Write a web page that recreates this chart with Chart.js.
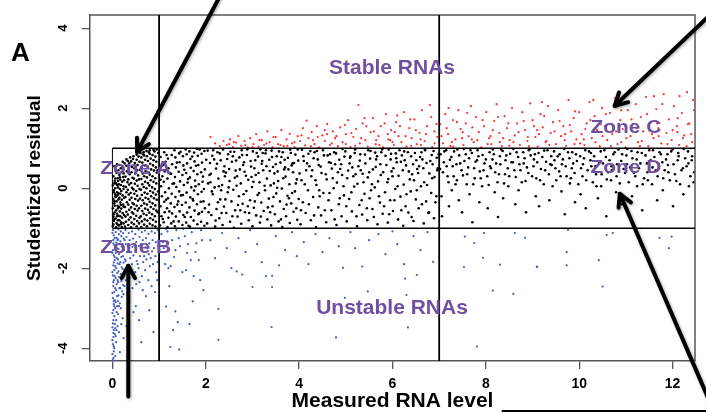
<!DOCTYPE html>
<html><head><meta charset="utf-8">
<script src="https://cdn.jsdelivr.net/npm/chart.js@4.4.0/dist/chart.umd.min.js"></script>
<style>html,body{margin:0;padding:0;background:#fff;}#wrap{position:relative;width:706px;height:413px;}</style>
</head><body><div id="wrap"><canvas id="c" width="706" height="413"></canvas></div>
<script>
// ---- axes ----
const xTicks = [0, 2, 4, 6, 8, 10, 12];
const yTicks = [-4, -2, 0, 2, 4];
const xRange = [-0.48, 12.48];
const yRange = [-4.32, 4.33];
const cutX = [1, 7];
const cutY = [1, -1];

// ---- points, flat [x, y, x, y, ...] ----
const blackPts = [
0.01,-0.95,0.03,-0.82,0.02,-0.71,0.05,-0.6,0.01,-0.5,0.04,-0.38,0.02,-0.27,0.06,-0.15,0.03,-0.05,0.01,0.07,0.05,0.18,0.02,0.3,
0.08,-0.98,0.09,-0.87,0.07,-0.76,0.1,-0.64,0.08,-0.55,0.11,-0.44,0.09,-0.33,0.07,-0.22,0.1,-0.1,0.12,0.02,0.08,0.12,0.11,0.25,0.09,0.38,
0.14,-0.93,0.15,-0.8,0.13,-0.69,0.16,-0.58,0.14,-0.47,0.17,-0.36,0.15,-0.24,0.13,-0.13,0.16,-0.02,0.14,0.1,0.17,0.21,0.15,0.33,0.13,0.45,
0.2,-0.97,0.19,-0.85,0.21,-0.74,0.22,-0.62,0.19,-0.51,0.23,-0.41,0.2,-0.29,0.22,-0.18,0.19,-0.07,0.24,0.05,0.21,0.16,0.23,0.28,0.2,0.41,
0.02,-0.9,0.04,-0.77,0.03,-0.65,0.05,-0.44,0.04,-0.32,0.06,-0.2,0.03,-0.1,0.06,0.0,0.04,0.12,0.06,0.24,
0.11,-0.91,0.12,-0.8,0.1,-0.7,0.12,-0.5,0.13,-0.28,0.11,-0.18,0.1,0.08,0.12,0.18,
0.18,-0.9,0.17,-0.7,0.18,-0.42,0.17,-0.14,0.18,0.08,0.16,0.27,0.18,0.5,
0.24,-0.88,0.25,-0.67,0.24,-0.46,0.25,-0.24,0.24,-0.02,0.25,0.2,0.24,0.37,0.22,0.52,0.07,0.45,0.04,0.55,0.1,0.6,
0.27,-0.96,0.29,-0.84,0.28,-0.71,0.3,-0.59,0.27,-0.47,0.31,-0.35,0.28,-0.22,0.3,-0.1,0.29,0.03,0.32,0.15,0.28,0.29,0.31,0.42,0.3,0.56,
0.34,-0.92,0.35,-0.79,0.33,-0.66,0.36,-0.54,0.34,-0.41,0.37,-0.29,0.35,-0.16,0.33,-0.04,0.36,0.09,0.34,0.22,0.37,0.35,0.35,0.48,0.36,0.62,
0.4,-0.98,0.41,-0.86,0.39,-0.73,0.42,-0.6,0.4,-0.48,0.43,-0.37,0.41,-0.24,0.39,-0.12,0.42,0.01,0.4,0.13,0.43,0.26,0.41,0.4,0.42,0.53,0.4,0.67,
0.46,-0.9,0.47,-0.77,0.45,-0.64,0.48,-0.52,0.46,-0.4,0.49,-0.27,0.47,-0.14,0.45,-0.03,0.48,0.11,0.46,0.24,0.49,0.37,0.47,0.5,0.48,0.63,
0.52,-0.95,0.53,-0.82,0.51,-0.69,0.54,-0.56,0.52,-0.44,0.55,-0.31,0.53,-0.19,0.51,-0.07,0.54,0.06,0.52,0.19,0.55,0.32,0.53,0.45,0.54,0.58,0.52,0.71,
0.57,-0.88,0.58,-0.74,0.57,-0.5,0.59,-0.26,0.58,-0.02,0.57,0.22,0.59,0.46,0.58,0.66,
0.62,-0.97,0.63,-0.83,0.61,-0.7,0.64,-0.57,0.62,-0.44,0.65,-0.3,0.63,-0.17,0.61,-0.04,0.64,0.1,0.62,0.23,0.65,0.37,0.63,0.5,0.64,0.64,0.62,0.77,
0.68,-0.91,0.69,-0.78,0.67,-0.64,0.7,-0.51,0.68,-0.38,0.71,-0.24,0.69,-0.11,0.67,0.03,0.7,0.16,0.68,0.3,0.71,0.43,0.69,0.57,0.7,0.71,0.68,0.82,
0.74,-0.95,0.75,-0.81,0.73,-0.67,0.76,-0.54,0.74,-0.41,0.77,-0.27,0.75,-0.14,0.73,0.0,0.76,0.13,0.74,0.27,0.77,0.4,0.75,0.54,0.76,0.68,0.74,0.8,
0.8,-0.89,0.81,-0.75,0.79,-0.61,0.82,-0.47,0.8,-0.34,0.83,-0.2,0.81,-0.07,0.79,0.07,0.82,0.2,0.8,0.34,0.83,0.47,0.81,0.61,0.82,0.74,0.8,0.86,
0.86,-0.93,0.87,-0.79,0.85,-0.65,0.88,-0.52,0.86,-0.38,0.89,-0.25,0.87,-0.11,0.85,0.02,0.88,0.16,0.86,0.3,0.89,0.44,0.87,0.57,0.88,0.7,0.86,0.83,
0.92,-0.96,0.93,-0.84,0.91,-0.7,0.94,-0.56,0.92,-0.43,0.95,-0.29,0.93,-0.16,0.91,-0.02,0.94,0.12,0.92,0.25,0.95,0.39,0.93,0.52,0.94,0.66,0.92,0.79,0.97,-0.6,0.98,-0.08,0.97,0.45,0.98,0.88,
0.15,0.58,0.22,0.66,0.3,0.72,0.38,0.77,0.45,0.8,0.52,0.84,0.6,0.88,0.67,0.9,0.73,0.93,0.8,0.95,0.88,0.96,0.95,0.97,
0.26,0.62,0.33,0.68,0.44,0.73,0.56,0.79,0.66,0.85,0.78,0.9,0.9,0.92,
1.02,-0.93,1.05,-0.7,1.03,-0.45,1.06,-0.2,1.04,0.05,1.07,0.3,1.05,0.55,1.03,0.78,
1.1,-0.85,1.12,-0.6,1.11,-0.34,1.13,-0.1,1.1,0.16,1.12,0.42,1.14,0.66,1.11,0.9,
1.18,-0.97,1.2,-0.74,1.17,-0.5,1.19,-0.25,1.21,0.0,1.18,0.24,1.2,0.5,1.19,0.74,
1.26,-0.88,1.28,-0.63,1.25,-0.38,1.27,-0.14,1.29,0.11,1.26,0.36,1.28,0.6,1.27,0.83,
1.34,-0.95,1.36,-0.71,1.33,-0.47,1.35,-0.22,1.37,0.03,1.34,0.28,1.36,0.52,1.35,0.77,1.33,0.95,
1.42,-0.83,1.44,-0.58,1.41,-0.33,1.43,-0.08,1.45,0.17,1.42,0.41,1.44,0.65,1.43,0.87,
1.5,-0.92,1.52,-0.67,1.49,-0.42,1.51,-0.17,1.53,0.08,1.5,0.33,1.52,0.57,1.51,0.8,
1.58,-0.86,1.6,-0.61,1.57,-0.36,1.59,-0.11,1.61,0.14,1.58,0.38,1.6,0.62,1.59,0.85,1.57,0.97,
1.66,-0.96,1.68,-0.72,1.65,-0.48,1.67,-0.23,1.69,0.02,1.66,0.27,1.68,0.51,1.67,0.73,1.65,0.92,
1.74,-0.81,1.76,-0.56,1.73,-0.31,1.75,-0.06,1.77,0.19,1.74,0.43,1.76,0.67,1.75,0.89,
1.82,-0.9,1.84,-0.65,1.81,-0.4,1.83,-0.15,1.85,0.1,1.82,0.35,1.84,0.58,1.83,0.81,1.81,0.98,
1.9,-0.84,1.92,-0.59,1.89,-0.34,1.91,-0.09,1.93,0.16,1.9,0.4,1.92,0.64,1.91,0.86,
1.97,-0.94,1.98,-0.5,1.96,-0.02,1.98,0.47,1.97,0.93,
1.03,0.21,1.08,-0.77,1.09,0.58,1.15,-0.29,1.16,0.83,1.22,-0.58,1.23,0.37,1.31,-0.83,1.32,0.12,1.38,0.64,1.39,-0.41,1.46,0.91,
1.47,-0.18,1.54,0.46,1.55,-0.72,1.62,0.23,1.63,-0.94,1.71,0.79,1.72,-0.27,1.78,0.05,1.79,0.56,1.86,-0.63,1.87,0.97,1.94,0.29,1.95,-0.33,
2.03,-0.88,2.07,-0.41,2.05,0.12,2.09,0.63,2.04,0.94,2.12,-0.67,2.15,-0.15,2.11,0.36,2.14,0.81,
2.2,-0.96,2.23,-0.52,2.19,0.02,2.22,0.49,2.25,0.9,2.29,-0.75,2.31,-0.28,2.27,0.24,2.32,0.7,
2.36,-0.92,2.39,-0.46,2.35,0.08,2.4,0.55,2.37,0.97,2.44,-0.62,2.47,-0.1,2.43,0.39,2.48,0.85,
2.52,-0.84,2.55,-0.33,2.51,0.18,2.56,0.66,2.6,-0.99,2.63,-0.55,2.59,-0.04,2.64,0.44,2.61,0.91,
2.68,-0.71,2.71,-0.2,2.67,0.3,2.72,0.77,2.76,-0.89,2.79,-0.39,2.75,0.12,2.8,0.58,2.77,0.95,
2.84,-0.6,2.87,-0.07,2.83,0.41,2.88,0.83,2.92,-0.8,2.95,-0.3,2.91,0.21,2.96,0.68,
3.0,-0.95,3.03,-0.49,2.99,0.03,3.04,0.5,3.01,0.92,3.08,-0.68,3.11,-0.17,3.07,0.33,3.12,0.79,
3.16,-0.86,3.19,-0.36,3.15,0.15,3.2,0.61,3.17,0.97,3.24,-0.57,3.27,-0.05,3.23,0.45,3.28,0.87,
3.32,-0.78,3.35,-0.26,3.31,0.24,3.36,0.71,3.4,-0.93,3.43,-0.45,3.39,0.07,3.44,0.53,3.41,0.94,
3.48,-0.65,3.51,-0.13,3.47,0.37,3.52,0.8,3.56,-0.83,3.59,-0.33,3.55,0.18,3.6,0.64,
3.64,-0.97,3.67,-0.52,3.63,-0.01,3.68,0.47,3.65,0.9,3.72,-0.7,3.75,-0.19,3.71,0.29,3.76,0.76,
3.8,-0.87,3.83,-0.38,3.79,0.1,3.84,0.57,3.81,0.96,3.88,-0.59,3.91,-0.08,3.87,0.4,3.92,0.84,
3.96,-0.79,3.99,-0.27,3.95,0.22,3.98,0.69,
2.1,0.15,2.18,0.72,2.33,-0.05,2.41,0.3,2.58,0.8,2.66,0.06,2.82,0.65,2.9,-0.45,3.06,0.7,3.14,-0.12,3.3,0.55,3.38,-0.6,
3.54,0.42,3.62,0.78,3.78,-0.25,3.86,0.62,2.26,-0.35,2.5,0.48,2.74,-0.55,2.98,0.28,3.22,0.88,3.46,0.12,3.7,0.52,3.94,-0.5,
2.01,0.71,2.06,-0.6,2.08,0.33,2.13,-0.08,2.16,0.95,2.21,-0.81,2.24,0.61,2.28,0.05,2.3,0.87,2.34,-0.62,2.38,0.42,2.42,-0.28,
2.46,0.73,2.49,0.02,2.53,0.91,2.57,-0.7,2.62,0.26,2.65,0.69,2.69,-0.42,2.73,0.47,2.78,0.83,2.81,-0.15,2.86,0.31,2.89,0.97,
2.93,-0.62,2.97,0.54,3.02,0.16,3.05,-0.33,3.09,0.88,3.13,0.38,3.18,-0.71,3.21,0.68,3.26,0.06,3.29,0.95,3.33,-0.48,3.37,0.43,
3.42,0.78,3.45,-0.22,3.5,0.6,3.53,0.01,3.57,0.92,3.61,-0.78,3.66,0.25,3.69,0.71,3.73,-0.41,3.77,0.47,3.82,0.88,3.85,-0.12,
3.89,0.63,3.93,0.12,3.97,0.97,
4.03,-0.9,4.08,-0.35,4.05,0.2,4.1,0.68,4.06,0.96,4.14,-0.62,4.19,-0.05,4.15,0.45,4.2,0.86,
4.25,-0.8,4.3,-0.22,4.26,0.3,4.31,0.75,4.36,-0.97,4.41,-0.48,4.37,0.08,4.42,0.58,4.38,0.93,
4.47,-0.68,4.52,-0.12,4.48,0.38,4.53,0.82,4.58,-0.85,4.63,-0.3,4.59,0.22,4.64,0.65,
4.69,-0.55,4.74,0.0,4.7,0.49,4.75,0.9,4.8,-0.92,4.85,-0.4,4.81,0.14,4.86,0.71,
4.91,-0.7,4.96,-0.18,4.92,0.33,4.97,0.79,4.93,0.98,5.02,-0.83,5.07,-0.27,5.03,0.25,5.08,0.62,
5.13,-0.58,5.18,0.04,5.14,0.52,5.19,0.88,5.24,-0.95,5.29,-0.42,5.25,0.11,5.3,0.69,
5.35,-0.66,5.4,-0.14,5.36,0.36,5.41,0.84,5.46,-0.8,5.51,-0.25,5.47,0.27,5.52,0.74,5.48,0.95,
5.57,-0.52,5.62,0.02,5.58,0.47,5.63,0.89,5.68,-0.9,5.73,-0.36,5.69,0.17,5.74,0.6,
5.79,-0.64,5.84,-0.1,5.8,0.4,5.85,0.81,5.9,-0.86,5.95,-0.3,5.91,0.23,5.96,0.72,5.92,0.97,
6.01,-0.57,6.06,-0.02,6.02,0.5,6.07,0.87,6.12,-0.78,6.17,-0.21,6.13,0.31,6.18,0.66,
6.23,-0.94,6.28,-0.45,6.24,0.09,6.29,0.57,6.25,0.92,6.34,-0.61,6.39,-0.08,6.35,0.42,6.4,0.8,
6.45,-0.82,6.5,-0.28,6.46,0.2,6.51,0.7,6.56,-0.5,6.61,0.05,6.57,0.55,6.62,0.9,
6.67,-0.88,6.72,-0.33,6.68,0.15,6.73,0.63,6.69,0.98,6.78,-0.6,6.83,-0.12,6.79,0.37,6.84,0.83,
6.89,-0.75,6.94,-0.2,6.9,0.28,6.95,0.76,
4.22,0.55,4.44,-0.2,4.66,0.85,4.88,0.48,5.1,0.8,5.32,0.45,5.54,-0.05,5.76,0.9,5.98,0.42,6.2,0.82,6.42,0.35,6.64,0.72,
6.86,0.6,4.33,0.9,4.77,0.6,5.21,0.35,5.65,0.72,6.09,0.65,6.53,0.48,6.97,0.5,
4.01,0.37,4.04,-0.55,4.09,0.8,4.12,0.1,4.17,0.62,4.21,-0.4,4.24,0.93,4.28,0.45,4.32,-0.68,4.35,0.2,4.4,0.72,4.43,-0.05,
4.46,0.54,4.51,0.95,4.55,-0.55,4.57,0.35,4.61,0.82,4.65,-0.12,4.68,0.63,4.72,0.25,4.76,-0.78,4.79,0.87,4.83,0.4,4.87,-0.25,
4.9,0.6,4.95,0.05,4.99,0.92,5.01,-0.45,5.05,0.44,5.09,0.76,5.12,-0.1,5.16,0.3,5.2,0.97,5.23,-0.7,5.27,0.55,5.31,0.85,
5.34,-0.3,5.38,0.15,5.42,0.62,5.45,-0.5,5.5,0.4,5.53,0.93,5.56,0.1,5.6,-0.72,5.64,0.53,5.67,0.8,5.71,-0.2,5.75,0.33,
5.78,0.97,5.82,-0.45,5.87,0.58,5.89,0.15,5.93,-0.65,5.97,0.86,6.0,0.3,6.04,-0.3,6.08,0.75,6.11,0.05,6.15,0.95,6.19,-0.55,
6.22,0.45,6.26,0.7,6.3,-0.15,6.33,0.9,6.37,0.22,6.41,-0.72,6.44,0.6,6.48,0.88,6.52,-0.05,6.55,0.38,6.59,0.78,6.63,-0.4,
6.66,0.5,6.7,0.95,6.74,0.08,6.77,-0.62,6.81,0.68,6.85,0.25,6.88,0.93,6.92,-0.35,6.96,0.45,6.99,0.85,
7.03,0.85,7.08,0.4,7.05,-0.2,7.1,0.65,7.06,-0.7,7.15,0.95,7.2,0.15,7.16,0.55,7.21,-0.45,
7.26,0.78,7.31,0.3,7.27,-0.05,7.32,0.92,7.37,0.6,7.42,-0.3,7.38,0.2,7.43,0.82,
7.48,0.45,7.53,0.98,7.49,-0.6,7.54,0.68,7.59,0.1,7.64,0.75,7.6,0.35,7.65,-0.15,
7.7,0.88,7.75,0.5,7.71,-0.85,7.76,0.25,7.81,0.7,7.86,-0.35,7.82,0.95,7.87,0.42,
7.92,0.05,7.97,0.62,7.93,0.83,8.03,0.3,8.08,0.9,8.04,-0.5,8.09,0.55,
8.14,0.72,8.19,-0.1,8.15,0.97,8.2,0.4,8.25,0.15,8.3,0.8,8.26,-0.72,8.31,0.6,
8.36,0.93,8.41,0.35,8.37,-0.25,8.42,0.7,8.47,0.5,8.52,0.86,8.48,0.05,
8.58,0.65,8.63,-0.4,8.59,0.98,8.64,0.28,8.69,0.78,8.74,0.45,8.7,-0.05,
8.8,0.9,8.85,0.18,8.81,0.62,8.86,-0.6,8.91,0.38,8.96,0.82,8.92,0.95,
9.02,0.55,9.07,-0.2,9.03,0.72,9.08,0.25,9.13,0.88,9.18,0.48,9.14,-0.45,
9.24,0.1,9.29,0.66,9.25,0.94,9.35,0.35,9.4,0.8,9.36,-0.3,9.41,0.58,
9.46,0.92,9.51,0.2,9.47,0.7,9.57,0.42,9.62,-0.08,9.58,0.85,9.63,0.6,
9.68,0.98,9.73,0.3,9.69,-0.65,9.79,0.75,9.84,0.5,9.8,0.12,9.85,0.9,
9.9,0.38,9.95,0.68,9.91,-0.35,
7.02,0.48,7.11,0.92,7.18,0.3,7.23,0.71,7.29,0.55,7.35,0.1,7.39,0.97,7.45,0.62,7.51,0.32,7.57,0.85,7.62,0.52,7.67,0.95,
7.73,0.1,7.78,0.66,7.84,0.8,7.89,0.25,7.95,0.45,8.0,0.72,8.06,0.08,8.11,0.5,8.17,0.85,8.22,0.62,8.28,0.35,8.33,0.96,
8.39,0.12,8.44,0.82,8.5,0.3,8.55,0.65,8.61,0.45,8.66,0.9,8.72,0.6,8.77,0.15,8.83,0.75,8.88,0.52,8.94,0.98,8.99,0.3,
9.05,0.85,9.1,0.65,9.16,0.2,9.21,0.78,9.27,0.45,9.32,0.95,9.38,0.6,9.43,0.05,9.49,0.5,9.54,0.8,9.6,0.3,9.65,0.72,
9.71,0.55,9.76,0.9,9.82,0.25,9.87,0.62,9.93,0.85,9.98,0.1,
10.02,0.8,10.07,0.3,10.03,-0.15,10.08,0.6,10.13,0.95,10.18,0.45,10.14,-0.5,
10.24,0.7,10.29,0.15,10.25,0.88,10.35,0.55,10.4,-0.25,10.36,0.35,
10.46,0.92,10.51,0.62,10.47,0.05,10.57,0.78,10.62,0.4,10.58,-0.7,
10.68,0.2,10.73,0.85,10.69,0.55,10.79,-0.1,10.84,0.97,10.8,0.3,
10.9,0.68,10.95,0.48,10.91,-0.4,11.01,0.82,11.06,0.15,11.02,0.6,
11.12,0.93,11.17,0.38,11.13,-0.2,11.23,0.72,11.28,0.5,11.24,0.05,
11.34,0.88,11.39,0.25,11.35,-0.55,11.45,0.62,11.5,0.95,11.46,0.4,
11.56,0.1,11.61,0.78,11.57,0.52,11.67,-0.3,11.72,0.9,11.68,0.3,
11.78,0.65,11.83,0.45,11.79,-0.05,11.89,0.85,11.94,0.2,11.9,0.58,
12.0,0.97,12.05,0.35,12.01,-0.45,12.11,0.7,12.16,0.1,12.12,0.88,
12.22,0.5,12.27,0.75,12.23,-0.15,12.33,0.92,12.38,0.3,12.34,0.62,12.42,0.8,12.45,0.15,
10.04,0.5,10.1,0.75,10.15,0.2,10.21,0.92,10.26,0.55,10.32,0.8,10.37,0.05,10.43,0.65,10.48,0.35,10.54,0.95,10.59,0.22,
10.65,0.7,10.7,0.45,10.76,0.9,10.81,0.6,10.87,0.12,10.92,0.85,10.98,0.38,11.03,0.98,11.09,0.52,11.14,0.75,11.2,0.3,
11.25,0.9,11.31,0.62,11.36,0.1,11.42,0.82,11.47,0.2,11.53,0.7,11.58,0.95,11.64,0.45,11.69,0.62,11.75,0.85,11.8,0.25,
11.86,0.72,11.91,0.4,11.97,0.92,12.02,0.6,12.08,0.18,12.13,0.8,12.19,0.45,12.24,0.98,12.3,0.55,12.35,0.05,12.41,0.7,12.46,0.4
];
const redPts = [
2.1,1.28,2.2,1.12,2.3,1.05,2.38,1.18,2.45,1.08,2.52,1.22,2.58,1.03,2.65,1.14,2.7,1.3,2.76,1.06,2.83,1.18,2.9,1.02,2.95,1.25,
3.02,1.1,3.08,1.35,3.13,1.04,3.2,1.2,3.25,1.08,3.32,1.42,3.37,1.15,3.43,1.02,3.5,1.28,3.55,1.1,3.62,1.45,3.67,1.05,3.73,1.22,
3.8,1.36,3.85,1.12,3.9,1.03,3.97,1.3,4.02,1.18,4.08,1.5,4.13,1.07,4.16,1.69,4.2,1.25,4.27,1.4,4.33,1.1,4.38,1.55,4.43,1.02,
4.5,1.32,4.55,1.18,4.6,1.6,4.66,1.08,4.72,1.42,4.77,1.25,4.83,1.05,4.88,1.52,4.93,1.15,5.0,1.35,5.05,1.7,5.1,1.03,5.16,1.28,
5.22,1.48,5.27,2.08,5.3,1.12,5.36,1.62,5.42,1.2,5.47,1.04,5.53,1.4,5.58,1.75,5.64,1.1,5.7,1.3,5.75,1.55,5.8,1.02,5.86,1.85,
5.91,1.22,5.97,1.45,6.03,1.08,6.08,1.65,6.13,1.3,6.19,1.15,6.25,1.9,6.3,1.04,6.36,1.5,6.41,1.25,6.47,1.72,6.52,1.1,6.58,1.38,
6.63,1.95,6.69,1.18,6.74,1.55,6.8,2.08,6.85,1.03,6.9,1.42,6.96,1.28,
7.02,1.6,7.08,1.12,7.13,1.85,7.19,1.35,7.24,1.05,7.3,1.7,7.35,1.22,7.41,1.95,7.46,1.48,7.52,1.08,7.57,1.62,7.63,1.3,7.68,2.05,
7.74,1.15,7.79,1.78,7.85,1.4,7.9,1.02,7.96,1.55,8.01,1.9,8.07,1.25,8.12,1.1,8.18,1.68,8.23,2.1,8.29,1.38,8.34,1.05,8.4,1.8,
8.45,1.5,8.51,1.2,8.56,2.0,8.62,1.32,8.67,1.62,8.73,1.08,8.78,1.9,8.84,1.45,8.89,1.18,8.95,2.12,9.0,1.7,9.06,1.28,9.11,1.04,
9.17,1.85,9.22,1.52,9.28,1.15,9.33,2.05,9.39,1.38,9.44,1.65,9.5,1.1,9.55,1.95,9.61,1.3,9.66,1.55,9.72,1.06,9.77,2.2,9.83,1.42,
9.88,1.75,9.94,1.22,10.0,1.9,10.05,1.35,10.11,1.08,10.16,1.62,10.22,2.15,10.27,1.25,10.33,1.8,10.38,1.45,10.44,1.05,10.49,2.0,
10.55,1.55,10.6,1.2,10.66,1.88,10.71,1.35,10.77,2.25,10.82,1.1,10.88,1.7,10.93,1.48,10.99,1.02,11.04,1.95,11.1,1.3,11.15,1.6,
11.21,2.1,11.26,1.15,11.32,1.78,11.37,1.42,11.43,2.28,11.48,1.05,11.54,1.65,11.59,1.25,11.65,1.98,11.7,1.5,11.76,1.12,11.81,2.35,
11.87,1.38,11.92,1.72,11.98,1.2,12.03,2.05,12.09,1.55,12.14,1.08,12.2,1.88,12.25,1.32,12.31,2.4,12.36,1.62,12.42,1.15,12.46,1.95,
3.0,1.02,3.6,1.08,4.25,1.05,4.7,1.12,5.2,1.06,5.65,1.2,6.0,1.15,6.4,1.06,6.9,1.12,7.3,1.04,7.7,1.22,8.1,1.3,8.5,1.06,8.9,1.28,
9.3,1.18,9.7,1.35,10.1,1.22,10.5,1.3,10.9,1.15,11.3,1.05,11.7,1.3,12.1,1.4,4.4,1.28,5.0,1.1,5.9,1.35,6.6,1.22,7.5,1.4,8.3,1.15,
9.1,1.45,9.9,1.1,10.7,1.6,11.5,1.45,12.3,1.05,
2.5,1.1,2.85,1.08,3.15,1.2,3.45,1.28,3.75,1.06,4.05,1.32,4.3,1.2,4.55,1.45,4.8,1.3,4.98,1.58,5.12,1.38,5.33,1.25,5.44,1.55,
5.6,1.42,5.72,1.08,5.83,1.62,5.95,1.2,6.05,1.4,6.16,1.55,6.28,1.3,6.38,1.72,6.5,1.45,6.61,1.08,6.72,1.35,6.83,1.78,6.94,1.6,
7.05,1.3,7.16,1.5,7.27,1.15,7.38,1.65,7.49,1.25,7.6,1.88,7.71,1.52,7.82,1.2,7.93,1.7,8.04,1.1,8.15,1.45,8.26,1.78,8.37,1.25,
8.48,1.62,8.59,1.15,8.7,1.4,8.81,1.68,8.92,1.05,9.03,1.55,9.14,1.35,9.25,1.8,9.36,1.08,9.47,1.42,9.58,1.68,9.69,1.2,9.8,1.58,
9.91,1.92,10.02,1.12,10.13,1.48,10.24,1.7,10.35,1.15,10.46,1.6,10.57,1.85,10.68,1.05,10.79,1.42,10.9,1.95,11.01,1.25,11.12,1.72,
11.23,1.5,11.34,1.18,11.45,1.85,11.56,1.35,11.67,1.62,11.78,2.1,11.89,1.1,12.0,1.45,12.11,1.75,12.22,1.25,12.33,1.6,12.44,2.2,
12.4,1.35,9.2,2.15,10.3,2.2,11.6,2.3,12.15,2.3,7.2,2.0,6.1,1.82,5.4,1.75,4.6,1.35,3.9,1.15,3.3,1.12,2.6,1.15
];
const bluePts = [
0.01,-1.05,0.03,-1.18,0.02,-1.3,0.04,-1.42,0.01,-1.55,0.03,-1.68,0.05,-1.8,0.02,-1.93,0.04,-2.05,0.01,-2.18,0.03,-2.3,0.02,-2.45,
0.04,-2.6,0.01,-2.75,0.03,-2.9,0.02,-3.05,0.04,-3.2,0.01,-3.38,0.03,-3.55,0.02,-3.72,0.01,-3.9,0.03,-4.08,0.02,-4.25,
0.07,-1.1,0.09,-1.24,0.08,-1.36,0.1,-1.5,0.07,-1.62,0.09,-1.75,0.11,-1.88,0.08,-2.0,0.1,-2.12,0.07,-2.25,0.09,-2.4,0.08,-2.55,
0.1,-2.7,0.07,-2.85,0.09,-3.1,0.08,-3.3,0.06,-3.5,0.08,-3.85,
0.13,-1.03,0.14,-1.15,0.12,-1.28,0.15,-1.4,0.13,-1.52,0.14,-1.65,0.12,-1.78,0.15,-1.9,0.13,-2.08,0.14,-2.22,0.12,-2.35,0.15,-2.5,
0.13,-2.68,0.14,-2.95,0.12,-3.15,0.14,-3.6,
0.18,-1.08,0.19,-1.2,0.17,-1.33,0.2,-1.46,0.18,-1.6,0.19,-1.72,0.17,-1.85,0.2,-1.98,0.18,-2.15,0.19,-2.32,0.17,-2.5,0.2,-2.72,0.18,-3.0,0.19,-3.4,
0.23,-1.12,0.24,-1.26,0.22,-1.4,0.25,-1.55,0.23,-1.7,0.24,-1.86,0.22,-2.02,0.25,-2.2,0.23,-2.42,0.24,-2.65,0.22,-3.25,
0.05,-1.25,0.06,-1.48,0.05,-1.72,0.06,-1.95,0.05,-2.2,0.06,-2.5,0.05,-2.8,0.06,-3.0,0.05,-3.65,0.04,-4.0,0.1,-2.95,0.11,-3.45,0.11,-1.3,0.11,-2.3,
0.0,-1.12,0.02,-1.38,0.0,-1.62,0.03,-1.86,0.0,-2.1,0.02,-2.35,0.0,-2.62,0.03,-2.82,0.0,-3.12,0.02,-3.3,0.0,-3.48,0.02,-3.62,
0.0,-3.8,0.03,-3.95,0.0,-4.15,0.01,-4.3,0.04,-2.95,0.05,-3.4,0.07,-3.7,0.09,-3.55,0.06,-4.2,0.12,-2.82,0.16,-2.88,0.21,-2.58,
0.26,-1.3,0.27,-1.78,0.26,-2.45,0.33,-1.45,0.4,-1.6,0.47,-1.4,0.54,-1.9,0.61,-1.4,0.68,-1.7,0.75,-1.5,0.82,-1.75,0.89,-1.5,
0.96,-2.3,0.88,-3.6,0.62,-3.85,0.45,-3.1,0.24,-3.75,0.16,-4.1,
0.28,-1.05,0.3,-1.22,0.29,-1.4,0.31,-1.6,0.28,-1.82,0.3,-2.05,0.29,-2.3,0.32,-2.6,0.3,-3.45,
0.35,-1.12,0.37,-1.3,0.36,-1.52,0.38,-1.75,0.35,-1.98,0.37,-2.25,0.36,-2.85,
0.42,-1.08,0.44,-1.26,0.43,-1.47,0.45,-1.68,0.42,-1.9,0.44,-2.15,0.43,-2.5,
0.49,-1.15,0.51,-1.35,0.5,-1.58,0.52,-1.82,0.49,-2.1,0.51,-2.4,0.5,-2.95,
0.56,-1.04,0.58,-1.22,0.57,-1.44,0.59,-1.7,0.56,-2.0,0.58,-2.35,0.57,-3.3,
0.63,-1.1,0.65,-1.3,0.64,-1.55,0.66,-1.85,0.63,-2.2,0.65,-2.55,
0.7,-1.06,0.72,-1.25,0.71,-1.48,0.73,-1.78,0.7,-2.05,0.72,-2.7,
0.77,-1.14,0.79,-1.38,0.78,-1.65,0.8,-1.95,0.77,-2.3,0.79,-3.05,
0.84,-1.08,0.86,-1.3,0.85,-1.58,0.87,-1.9,0.84,-2.45,
0.91,-1.12,0.93,-1.35,0.92,-1.7,0.94,-2.1,0.91,-2.6,0.97,-1.05,0.98,-1.45,0.97,-1.85,
1.05,-1.15,1.1,-1.5,1.13,-1.9,1.18,-1.08,1.22,-2.45,1.28,-1.3,1.32,-1.72,1.37,-1.05,1.4,-3.35,1.45,-1.45,1.5,-2.1,1.55,-1.2,
1.6,-1.62,1.65,-3.4,1.7,-1.1,1.74,-2.2,1.8,-1.38,1.85,-1.8,1.9,-1.05,1.95,-2.55,1.25,-1.95,1.42,-1.25,1.58,-2.05,1.78,-1.6,
1.92,-1.3,1.08,-1.35,1.2,-2.0,1.35,-1.55,1.52,-1.02,1.68,-1.8,1.88,-2.3,1.15,-1.02,1.3,-3.55,1.62,-1.4,
1.24,-3.97,1.43,-4.03,1.15,-2.96,1.35,-3.08,1.72,-2.83,2.27,-3.79,2.27,-3.02,
2.1,-1.3,2.2,-1.75,2.35,-1.12,2.45,-1.5,2.55,-2.0,2.66,-2.08,2.78,-2.16,2.7,-1.25,2.85,-1.6,3.0,-2.47,2.95,-1.05,3.1,-1.4,
3.2,-1.85,3.29,-2.2,3.42,-2.19,3.42,-2.47,3.41,-3.47,3.57,-1.93,3.5,-1.2,3.7,-1.55,3.85,-1.1,3.95,-1.7,4.1,-1.35,4.2,-1.9,
4.35,-1.15,4.5,-1.6,4.65,-1.25,4.79,-3.73,4.85,-1.45,4.94,-1.99,4.98,-2.74,5.1,-1.1,5.2,-1.5,5.35,-1.96,5.47,-2.58,5.5,-1.3,
5.7,-1.15,5.85,-1.65,6.0,-1.08,6.1,-1.4,6.25,-1.9,6.27,-2.26,6.3,-2.67,6.33,-3.48,6.45,-1.2,6.52,-2.17,6.6,-1.55,6.75,-1.1,6.87,-1.84,
7.55,-1.21,7.75,-1.37,7.96,-1.12,8.62,-1.12,8.84,-1.24,9.76,-1.04,10.59,-1.17,10.72,-1.12,11.72,-1.24,11.98,-1.21,11.92,-1.5,
9.73,-1.6,7.94,-1.74,8.3,-1.91,9.1,-1.97,7.53,-1.97,8.15,-2.56,8.59,-2.64,9.09,-1.96,9.73,-1.93,10.42,-1.8,10.5,-2.46,7.81,-3.96
];

// ---- annotations (data units) ----
const labels = [
  {text: 'Stable RNAs', x: 5.99, y: 3.0, size: 21, stretch: 1.0},
  {text: 'Unstable RNAs', x: 5.99, y: -3.0, size: 21, stretch: 1.0},
  {text: 'Zone A', x: 0.5, y: 0.48, size: 19, stretch: 1.1},
  {text: 'Zone B', x: 0.5, y: -1.49, size: 19, stretch: 1.1},
  {text: 'Zone C', x: 11.0, y: 1.5, size: 19, stretch: 1.1},
  {text: 'Zone D', x: 11.0, y: 0.5, size: 19, stretch: 1.1}
];
const arrows = [
  [2.28, 4.75, 0.53, 0.91],
  [12.8, 4.33, 10.76, 2.06],
  [0.34, -5.21, 0.34, -1.94],
  [12.8, -5.35, 10.87, -0.14]
];
const panelLetter = {text: 'A', x: -1.97, y: 3.36};
const footLine = [8.34, 12.8, -5.57];

function toXY(a){const o=[];for(let i=0;i<a.length;i+=2)o.push({x:a[i],y:a[i+1]});return o;}

const FONT = '"Liberation Sans", Arial, Helvetica, sans-serif';

const overlay = {
  id: 'overlay',
  afterDraw(chart){
    const {ctx, chartArea: ca, scales: {x, y}} = chart;
    ctx.save();
    ctx.strokeStyle = '#555'; ctx.lineWidth = 1.5;
    ctx.beginPath();
    ctx.moveTo(ca.left, ca.top); ctx.lineTo(ca.right, ca.top); ctx.lineTo(ca.right, ca.bottom);
    ctx.stroke();
    ctx.strokeStyle = '#000'; ctx.lineWidth = 1.8;
    cutX.forEach(v => {
      const px = x.getPixelForValue(v);
      ctx.beginPath(); ctx.moveTo(px, ca.top); ctx.lineTo(px, ca.bottom); ctx.stroke();
    });
    ctx.lineWidth = 1.5;
    cutY.forEach(v => {
      const py = y.getPixelForValue(v);
      ctx.beginPath(); ctx.moveTo(x.getPixelForValue(0), py); ctx.lineTo(ca.right, py); ctx.stroke();
    });
    ctx.lineWidth = 1;
    ctx.beginPath();
    ctx.moveTo(x.getPixelForValue(0), y.getPixelForValue(cutY[0]));
    ctx.lineTo(x.getPixelForValue(0), y.getPixelForValue(cutY[1]));
    ctx.stroke();
    ctx.fillStyle = '#6f4f9f'; ctx.textAlign = 'center'; ctx.textBaseline = 'middle';
    labels.forEach(l => {
      ctx.save();
      ctx.translate(x.getPixelForValue(l.x), y.getPixelForValue(l.y));
      ctx.scale(l.stretch, 1);
      ctx.font = 'bold ' + l.size + 'px ' + FONT;
      ctx.fillText(l.text, 0, 0);
      ctx.restore();
    });
    ctx.fillStyle = '#000'; ctx.font = 'bold 26px ' + FONT;
    ctx.fillText(panelLetter.text, x.getPixelForValue(panelLetter.x), y.getPixelForValue(panelLetter.y));
    ctx.strokeStyle = '#000'; ctx.lineWidth = 4; ctx.lineCap = 'round'; ctx.lineJoin = 'round';
    ctx.shadowColor = 'rgba(0,0,0,0.35)'; ctx.shadowBlur = 3; ctx.shadowOffsetX = 1; ctx.shadowOffsetY = 1;
    arrows.forEach(a => {
      const x0 = x.getPixelForValue(a[0]), y0 = y.getPixelForValue(a[1]);
      const x1 = x.getPixelForValue(a[2]), y1 = y.getPixelForValue(a[3]);
      const ang = Math.atan2(y1 - y0, x1 - x0), h = 14, w = 0.5;
      ctx.beginPath(); ctx.moveTo(x0, y0); ctx.lineTo(x1, y1); ctx.stroke();
      ctx.beginPath();
      ctx.moveTo(x1 - h*Math.cos(ang - w), y1 - h*Math.sin(ang - w));
      ctx.lineTo(x1, y1);
      ctx.lineTo(x1 - h*Math.cos(ang + w), y1 - h*Math.sin(ang + w));
      ctx.stroke();
    });
    ctx.shadowColor = 'transparent';
    ctx.lineWidth = 2; ctx.lineCap = 'butt';
    ctx.beginPath();
    ctx.moveTo(x.getPixelForValue(footLine[0]), y.getPixelForValue(footLine[2]));
    ctx.lineTo(x.getPixelForValue(footLine[1]), y.getPixelForValue(footLine[2]));
    ctx.stroke();
    ctx.restore();
  }
};

function zeroPad(s){ s.paddingTop = 0; s.paddingBottom = 0; s.paddingLeft = 0; s.paddingRight = 0; }

new Chart(document.getElementById('c'), {
  type: 'scatter',
  data: {datasets: [
    {data: toXY(blackPts), backgroundColor: '#000', pointRadius: 1.3, borderWidth: 0},
    {data: toXY(redPts), backgroundColor: '#ff2d2d', pointRadius: 1.1, borderWidth: 0},
    {data: toXY(bluePts), backgroundColor: '#3d5cc4', pointRadius: 1.1, borderWidth: 0}
  ]},
  options: {
    responsive: false, animation: false, events: [],
    layout: {padding: {top: 15, right: 11, left: 0, bottom: 0}},
    plugins: {legend: {display: false}, tooltip: {enabled: false}},
    scales: {
      x: {
        type: 'linear', min: xRange[0], max: xRange[1],
        afterBuildTicks: s => { s.ticks = xTicks.map(v => ({value: v})); },
        afterFit: s => { s.height = 52; zeroPad(s); },
        grid: {display: true, drawOnChartArea: false, drawTicks: true, tickLength: 8, color: '#555', lineWidth: 1.3},
        border: {display: true, color: '#555', width: 1.5},
        ticks: {color: '#000', font: {family: FONT, size: 14, weight: 'bold'}, padding: 7, maxRotation: 0, minRotation: 0},
        title: {display: true, text: 'Measured RNA level', color: '#000', font: {family: FONT, size: 21, weight: 'bold', lineHeight: 1}, padding: {top: 0, bottom: 1}}
      },
      y: {
        type: 'linear', min: yRange[0], max: yRange[1],
        afterBuildTicks: s => { s.ticks = yTicks.map(v => ({value: v})); },
        afterFit: s => { s.width = 90; zeroPad(s); },
        grid: {display: true, drawOnChartArea: false, drawTicks: true, tickLength: 8, color: '#555', lineWidth: 1.3},
        border: {display: true, color: '#555', width: 1.5},
        ticks: {color: '#000', font: {family: FONT, size: 13, weight: 'bold'}, padding: 13, minRotation: 90, maxRotation: 90, crossAlign: 'center'},
        title: {display: true, text: 'Studentized residual', color: '#000', font: {family: FONT, size: 19, weight: 'bold', lineHeight: 1}, padding: {top: 25.5, bottom: 0}}
      }
    }
  },
  plugins: [overlay]
});
</script></body></html>
